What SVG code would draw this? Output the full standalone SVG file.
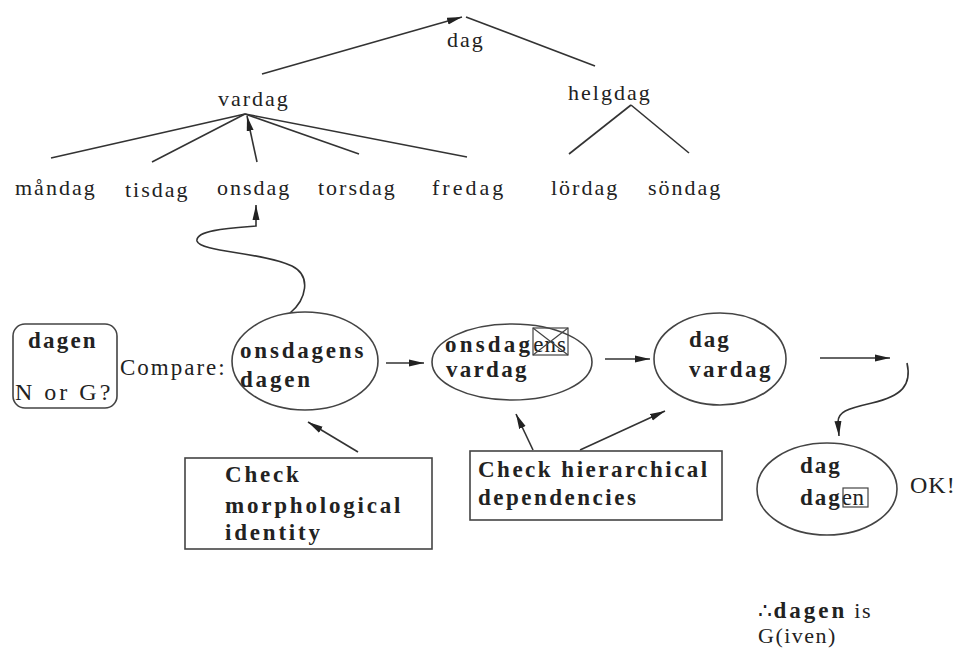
<svg xmlns="http://www.w3.org/2000/svg" width="957" height="652" viewBox="0 0 957 652">
<style>
  .t { font-family: "Liberation Serif", "Times New Roman", serif; font-size: 22px; letter-spacing: 2px; fill: #222; }
  .b { font-family: "Liberation Serif", "Times New Roman", serif; font-size: 23px; font-weight: bold; letter-spacing: 2.5px; fill: #222; }
  .n { font-weight: normal; }
  .ln { stroke: #333; stroke-width: 1.6; fill: none; }
  .shape { stroke: #444; stroke-width: 1.6; fill: none; }
</style>
<defs>
  <marker id="ah" markerUnits="userSpaceOnUse" markerWidth="16" markerHeight="8" refX="15" refY="4" orient="auto">
    <path d="M0,0.5 L15,4 L0,7.5 Z" fill="#222"/>
  </marker>
</defs>
<rect width="957" height="652" fill="#fff"/>

<g id="connectors">
  <line class="ln" x1="262" y1="74" x2="462" y2="17" marker-end="url(#ah)"/>
  <line class="ln" x1="466" y1="17" x2="595" y2="66"/>
  <line class="ln" x1="245" y1="114" x2="51" y2="158"/>
  <line class="ln" x1="245" y1="114" x2="152" y2="162"/>
  <line class="ln" x1="245" y1="114" x2="359" y2="154"/>
  <line class="ln" x1="245" y1="114" x2="467" y2="157"/>
  <line class="ln" x1="257" y1="162" x2="247" y2="116" marker-end="url(#ah)"/>
  <line class="ln" x1="631" y1="105" x2="569" y2="154"/>
  <line class="ln" x1="631" y1="105" x2="689" y2="153"/>
  <path class="ln" d="M290,313 C306,300 312,276 292,266 C262,252 200,252 197,241 C195,230 232,228 256,226 L256,205" marker-end="url(#ah)"/>
  <line class="ln" x1="386" y1="363" x2="424" y2="363" marker-end="url(#ah)"/>
  <line class="ln" x1="605" y1="359" x2="650" y2="359" marker-end="url(#ah)"/>
  <line class="ln" x1="820" y1="358" x2="890" y2="358" marker-end="url(#ah)"/>
  <path class="ln" d="M907,363 C912,385 902,396 872,403 C846,409 838,412 838,422 L839,436" marker-end="url(#ah)"/>
  <line class="ln" x1="358" y1="452" x2="308" y2="422" marker-end="url(#ah)"/>
  <line class="ln" x1="533" y1="450" x2="516" y2="414" marker-end="url(#ah)"/>
  <line class="ln" x1="580" y1="450" x2="665" y2="411" marker-end="url(#ah)"/>
</g>

<g id="tree-labels">
  <text class="t" x="447" y="47">dag</text>
  <text class="t" x="218" y="106">vardag</text>
  <text class="t" x="568" y="100">helgdag</text>
  <text class="t" x="15" y="195">måndag</text>
  <text class="t" x="125" y="197">tisdag</text>
  <text class="t" x="217" y="195">onsdag</text>
  <text class="t" x="318" y="195">torsdag</text>
  <text class="t" x="432" y="195" style="letter-spacing:3px">fredag</text>
  <text class="t" x="551" y="195">lördag</text>
  <text class="t" x="648" y="195">söndag</text>
</g>

<g id="node-dagen">
  <rect class="shape" x="13" y="324" width="104" height="84" rx="12"/>
  <text class="b" x="28" y="348" style="letter-spacing:2.2px">dagen</text>
  <text class="t" x="15" y="400" style="font-size:24px;letter-spacing:3px">N or G?</text>
</g>

<g id="label-compare">
  <text class="t" x="120" y="375" style="font-size:23px;letter-spacing:2px">Compare:</text>
</g>

<g id="node-onsdagens-dagen">
  <ellipse class="shape" cx="305" cy="361" rx="73" ry="49"/>
  <text class="b" x="240" y="358" style="letter-spacing:2.8px">onsdagens</text>
  <text class="b" x="240" y="387" style="letter-spacing:2.8px">dagen</text>
</g>

<g id="node-onsdagens-vardag">
  <ellipse class="shape" cx="512" cy="362" rx="80" ry="38"/>
  <text class="b" x="445" y="352" style="letter-spacing:3.2px">onsdag<tspan class="n" style="letter-spacing:1px">ens</tspan></text>
  <rect class="shape" x="533" y="328" width="35" height="27" style="stroke-width:1.2"/>
  <path class="shape" d="M533,328 L568,355 M568,328 L533,355" style="stroke-width:1.2"/>
  <text class="b" x="446" y="377" style="letter-spacing:2.3px">vardag</text>
</g>

<g id="node-dag-vardag">
  <ellipse class="shape" cx="720" cy="359" rx="66" ry="46"/>
  <text class="b" x="689" y="347" style="letter-spacing:2px">dag</text>
  <text class="b" x="689" y="377" style="letter-spacing:2.5px">vardag</text>
</g>

<g id="node-dag-dagen">
  <ellipse class="shape" cx="827" cy="489" rx="70" ry="46"/>
  <text class="b" x="800" y="473" style="letter-spacing:2px">dag</text>
  <text class="b" x="800" y="505" style="letter-spacing:2px">dag<tspan class="n" style="letter-spacing:0.5px">en</tspan></text>
  <rect class="shape" x="843" y="488" width="25" height="19" style="stroke-width:1.2"/>
</g>

<g id="label-ok">
  <text class="t" x="910" y="493" style="font-size:24px;letter-spacing:1px">OK!</text>
</g>

<g id="box-morph">
  <rect class="shape" x="185" y="458" width="247" height="91"/>
  <text class="b" x="225" y="482" style="letter-spacing:2.8px">Check</text>
  <text class="b" x="225" y="513" style="letter-spacing:2.8px">morphological</text>
  <text class="b" x="225" y="540" style="letter-spacing:2.8px">identity</text>
</g>

<g id="box-hier">
  <rect class="shape" x="470" y="451" width="252" height="69"/>
  <text class="b" x="478" y="477">Check hierarchical</text>
  <text class="b" x="478" y="505">dependencies</text>
</g>

<g id="conclusion">
  <text class="t" x="758" y="618" style="letter-spacing:1.5px">∴<tspan style="font-weight:bold;font-size:23px;letter-spacing:3px">dagen</tspan> is</text>
  <text class="t" x="758" y="643" style="letter-spacing:1.5px">G(iven)</text>
</g>
</svg>
